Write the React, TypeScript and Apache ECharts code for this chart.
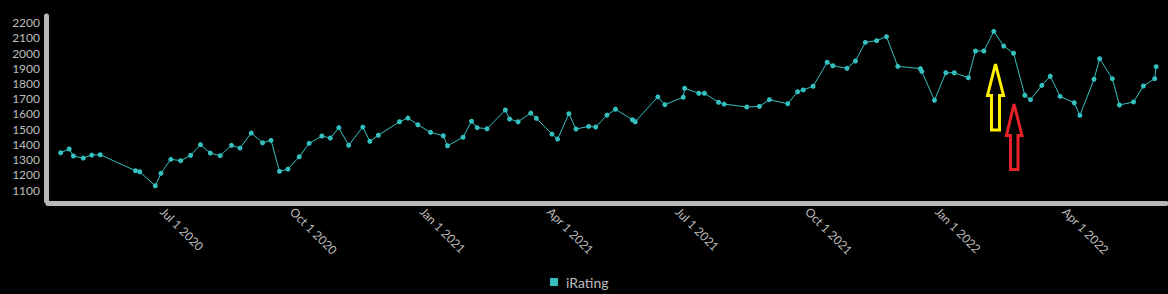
import React, { useEffect, useRef } from "react";
import * as echarts from "echarts";

const dates = [
  "2020-04-20", "2020-04-26", "2020-04-29", "2020-05-06", "2020-05-12", "2020-05-18",
  "2020-06-12", "2020-06-15", "2020-06-26", "2020-06-30", "2020-07-07", "2020-07-14",
  "2020-07-21", "2020-07-28", "2020-08-04", "2020-08-11", "2020-08-19", "2020-08-25",
  "2020-09-02", "2020-09-10", "2020-09-16", "2020-09-22", "2020-09-28", "2020-10-06",
  "2020-10-13", "2020-10-22", "2020-10-28", "2020-11-03", "2020-11-10", "2020-11-20",
  "2020-11-25", "2020-12-01", "2020-12-16", "2020-12-22", "2020-12-29", "2021-01-07",
  "2021-01-16", "2021-01-19", "2021-01-30", "2021-02-05", "2021-02-09", "2021-02-16",
  "2021-03-01", "2021-03-04", "2021-03-10", "2021-03-19", "2021-03-23", "2021-04-03",
  "2021-04-07", "2021-04-15", "2021-04-20", "2021-04-29", "2021-05-04", "2021-05-12",
  "2021-05-18", "2021-05-30", "2021-06-01", "2021-06-17", "2021-06-22", "2021-07-05",
  "2021-07-06", "2021-07-16", "2021-07-20", "2021-07-30", "2021-08-03", "2021-08-19",
  "2021-08-28", "2021-09-04", "2021-09-17", "2021-09-24", "2021-09-28", "2021-10-05",
  "2021-10-15", "2021-10-19", "2021-10-29", "2021-11-04", "2021-11-11", "2021-11-19",
  "2021-11-26", "2021-12-04", "2021-12-20", "2021-12-21", "2021-12-30", "2022-01-07",
  "2022-01-13", "2022-01-23", "2022-01-28", "2022-02-03", "2022-02-10", "2022-02-17",
  "2022-02-24", "2022-03-04", "2022-03-08", "2022-03-16", "2022-03-22", "2022-03-29",
  "2022-04-08", "2022-04-12", "2022-04-22", "2022-04-26", "2022-05-05", "2022-05-10",
  "2022-05-20", "2022-05-27", "2022-06-04", "2022-06-05",
];

const iRating = [
  1345, 1370, 1324, 1310, 1330, 1332,
  1227, 1220, 1128, 1210, 1302, 1293,
  1328, 1398, 1343, 1326, 1394, 1376,
  1475, 1411, 1427, 1223, 1238, 1319,
  1407, 1455, 1442, 1510, 1394, 1514,
  1420, 1460, 1549, 1573, 1529, 1479,
  1457, 1391, 1447, 1552, 1510, 1503,
  1626, 1567, 1549, 1606, 1571, 1468,
  1435, 1602, 1501, 1518, 1514, 1593,
  1631, 1562, 1549, 1712, 1661, 1710,
  1769, 1736, 1736, 1677, 1665, 1646,
  1650, 1694, 1667, 1746, 1758, 1782,
  1940, 1917, 1900, 1948, 2071, 2082,
  2108, 1913, 1898, 1880, 1690, 1871,
  1871, 1838, 2014, 2014, 2143, 2047,
  1999, 1723, 1694, 1788, 1848, 1716,
  1674, 1591, 1828, 1963, 1832, 1659,
  1679, 1784, 1832, 1911,
];

const yTickValues = [1100, 1200, 1300, 1400, 1500, 1600, 1700, 1800, 1900, 2000, 2100, 2200];
const xTickDates = [
  "2020-07-01", "2020-10-01", "2021-01-01", "2021-04-01",
  "2021-07-01", "2021-10-01", "2022-01-01", "2022-04-01",
];
const xRange = ["2020-04-11", "2022-06-12"];
const yRange = [1028, 2244];
const monthNames = ["Jan", "Feb", "Mar", "Apr", "May", "Jun", "Jul", "Aug", "Sep", "Oct", "Nov", "Dec"];

function toTime(s: string): number {
  const [y, m, d] = s.split("-").map(Number);
  return new Date(y, m - 1, d).getTime();
}

function fmt(v: number): string {
  const d = new Date(v);
  return `${monthNames[d.getMonth()]} ${d.getDate()} ${d.getFullYear()}`;
}

const TEAL = "#35c0c0";
const AXIS = "#b8b8b8";
const TEXT = "#bdbdbd";

export default function App() {
  const ref = useRef<HTMLDivElement>(null);
  useEffect(() => {
    if (!ref.current) return;
    const chart = echarts.init(ref.current, null, { renderer: "svg" });
    const data = dates.map((d, i) => [toTime(d), iRating[i]]);
    chart.setOption({
      animation: false,
      backgroundColor: "#000",
      textStyle: { fontFamily: "Lato" },
      grid: { left: 48, right: 2, top: 16, bottom: 93, containLabel: false },
      legend: {
        left: 545,
        top: 270,
        icon: "rect",
        itemWidth: 8,
        itemHeight: 8,
        itemGap: 10,
        textStyle: { color: TEXT, fontSize: 14, fontFamily: "Lato", padding: [0, 0, 0, 3] },
        data: ["iRating"],
      },
      xAxis: {
        type: "value",
        min: toTime(xRange[0]),
        max: toTime(xRange[1]),
        offset: 2.5,
        axisLine: { show: true, onZero: false, lineStyle: { color: AXIS, width: 5 } },
        axisTick: { show: false },
        splitLine: { show: false },
        axisLabel: {
          customValues: xTickDates.map(toTime),
          rotate: -45,
          margin: 6,
          color: TEXT,
          fontSize: 12,
          fontFamily: "Lato",
          formatter: (v: number) => fmt(v),
        },
      },
      yAxis: {
        type: "value",
        min: yRange[0],
        max: yRange[1],
        offset: 2,
        axisLine: { show: true, onZero: false, lineStyle: { color: AXIS, width: 5 } },
        axisTick: { show: false },
        splitLine: { show: false },
        axisLabel: {
          customValues: yTickValues,
          margin: 6,
          color: TEXT,
          fontSize: 12,
          fontFamily: "Lato",
          formatter: (v: number) => String(v),
        },
      },
      series: [
        {
          name: "iRating",
          type: "line",
          data,
          color: TEAL,
          symbol: "circle",
          symbolSize: 5,
          showSymbol: true,
          lineStyle: { width: 1, color: TEAL },
          itemStyle: { color: TEAL },
        },
      ],
      graphic: [
        {
          type: "polygon",
          shape: {
            points: [
              [995.5, 64], [1003.5, 95.5], [999.5, 95.5], [999.5, 130],
              [991.5, 130], [991.5, 95.5], [987.5, 95.5],
            ],
          },
          style: { fill: "none", stroke: "#ffef00", lineWidth: 3 },
        },
        {
          type: "polygon",
          shape: {
            points: [
              [1014, 104], [1022, 135.5], [1018, 135.5], [1018, 169.5],
              [1010.5, 169.5], [1010.5, 135.5], [1006.5, 135.5],
            ],
          },
          style: { fill: "none", stroke: "#e8222a", lineWidth: 3 },
        },
      ],
    });
    return () => chart.dispose();
  }, []);
  return (
    <div
      ref={ref}
      style={{ position: "absolute", left: 0, top: 0, width: 1168, height: 294, background: "#000" }}
    />
  );
}
